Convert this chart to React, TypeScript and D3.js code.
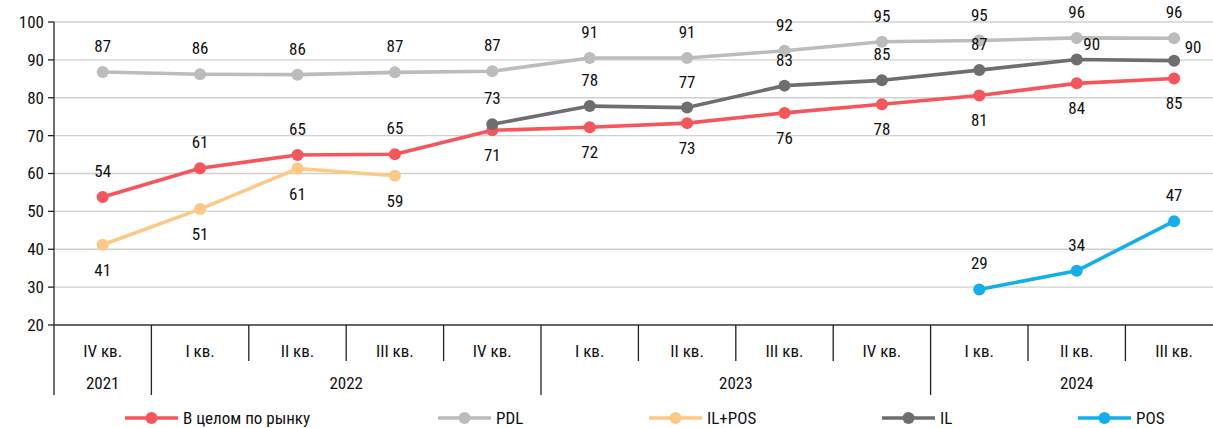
import React from "react";
import * as d3 from "d3";

// Quarters on the x axis, grouped by year
const quarters = ["IV кв.", "I кв.", "II кв.", "III кв.", "IV кв.", "I кв.", "II кв.", "III кв.", "IV кв.", "I кв.", "II кв.", "III кв."];
const years = ["2021", "2022", "2023", "2024"];
const yearStart = [0, 1, 5, 9];
const yTicks = [20, 30, 40, 50, 60, 70, 80, 90, 100];

// Series values per quarter (null = no data)
const marketValues = [53.8, 61.4, 64.9, 65.1, 71.4, 72.2, 73.3, 76.0, 78.3, 80.6, 83.8, 85.1];
const pdlValues = [86.8, 86.2, 86.1, 86.7, 87.0, 90.5, 90.5, 92.4, 94.8, 95.1, 95.8, 95.7];
const ilPosValues = [41.2, 50.6, 61.3, 59.4, null, null, null, null, null, null, null, null];
const ilValues = [null, null, null, null, 73.0, 77.8, 77.4, 83.2, 84.6, 87.3, 90.1, 89.8];
const posValues = [null, null, null, null, null, null, null, null, null, 29.4, 34.3, 47.4];

type Place = "above" | "below" | "aboveRight" | "right";

interface Series {
  name: string;
  values: (number | null)[];
  color: string;
  place: (i: number) => Place;
}

const series: Series[] = [
  { name: "В целом по рынку", values: marketValues, color: "#f5565b", place: (i) => (i < 4 ? "above" : "below") },
  { name: "PDL", values: pdlValues, color: "#bcbcbc", place: () => "above" },
  { name: "IL+POS", values: ilPosValues, color: "#fdc987", place: () => "below" },
  { name: "IL", values: ilValues, color: "#6e6e6e", place: (i) => (i === 11 ? "right" : i === 10 ? "aboveRight" : "above") },
  { name: "POS", values: posValues, color: "#14afea", place: () => "above" },
];

const legendX = [125, 438, 649, 882, 1078];

const W = 1213;
const H = 428;
const left = 54;
const band = 97.4;
const FONT = "'Liberation Sans Narrow', 'Arial Narrow', 'Roboto Condensed', 'Liberation Sans', sans-serif";

export default function App() {
  const x = d3.scaleBand<number>().domain(d3.range(quarters.length)).range([left, left + band * quarters.length]);
  const y = d3.scaleLinear().domain([20, 100]).range([325, 22]);
  const cx = (i: number) => (x(i) as number) + x.bandwidth() / 2;
  const axisY = y(20);

  const line = d3
    .line<[number, number | null]>()
    .defined((d) => d[1] !== null)
    .x((d) => cx(d[0]))
    .y((d) => y(d[1] as number));

  const offset = (p: Place) => {
    switch (p) {
      case "above":
        return [0, -26];
      case "below":
        return [0, 25];
      case "aboveRight":
        return [15, -15];
      case "right":
        return [19, -14];
    }
  };

  return (
    <svg width={W} height={H} style={{ position: "absolute", left: 0, top: 0, fontFamily: FONT }}>
      <rect width={W} height={H} fill="#fff" />
      {/* horizontal gridlines */}
      {yTicks.slice(1).map((t) => (
        <line key={t} x1={left} x2={W} y1={y(t)} y2={y(t)} stroke="#d0d0d0" strokeWidth={1.3} />
      ))}
      {/* y axis */}
      <line x1={left} x2={left} y1={y(100)} y2={395} stroke="#222" strokeWidth={1.3} />
      {yTicks.map((t) => (
        <g key={t}>
          <line x1={left - 6} x2={left} y1={y(t)} y2={y(t)} stroke="#222" strokeWidth={1.3} />
          <text x={left - 10} y={y(t)} dy="0.35em" textAnchor="end" fontSize={17} fill="#111">
            {t}
          </text>
        </g>
      ))}
      {/* x axis */}
      <line x1={left} x2={W} y1={axisY} y2={axisY} stroke="#333" strokeWidth={1.5} />
      {quarters.map((q, i) => {
        const bx = (x(i) as number) + band;
        const isYear = yearStart.includes(i + 1);
        return (
          <g key={i}>
            {i < quarters.length - 1 && (
              <line x1={bx} x2={bx} y1={axisY} y2={isYear ? 395 : 361} stroke="#222" strokeWidth={1.3} />
            )}
            <text x={cx(i)} y={351} dy="0.35em" textAnchor="middle" fontSize={17} fill="#111">
              {q}
            </text>
          </g>
        );
      })}
      {years.map((yr, k) => {
        const s = yearStart[k];
        const e = k < years.length - 1 ? yearStart[k + 1] - 1 : quarters.length - 1;
        return (
          <text key={yr} x={(cx(s) + cx(e)) / 2} y={383} dy="0.35em" textAnchor="middle" fontSize={17} fill="#111">
            {yr}
          </text>
        );
      })}
      {/* series */}
      {series.map((s) => {
        const pts = s.values.map((v, i) => [i, v] as [number, number | null]);
        return (
          <g key={s.name}>
            <path d={line(pts) || ""} fill="none" stroke={s.color} strokeWidth={3.6} strokeLinejoin="round" />
            {pts
              .filter((d) => d[1] !== null)
              .map((d) => {
                const [dx, dy] = offset(s.place(d[0]));
                return (
                  <g key={d[0]}>
                    <circle cx={cx(d[0])} cy={y(d[1] as number)} r={6} fill={s.color} />
                    <text
                      x={cx(d[0]) + dx}
                      y={y(d[1] as number) + dy}
                      dy="0.35em"
                      textAnchor="middle"
                      fontSize={17}
                      fill="#111"
                    >
                      {Math.round(d[1] as number)}
                    </text>
                  </g>
                );
              })}
          </g>
        );
      })}
      {/* legend */}
      {series.map((s, k) => (
        <g key={s.name} transform={`translate(${legendX[k]},418)`}>
          <line x1={0} x2={53} y1={0} y2={0} stroke={s.color} strokeWidth={3.6} />
          <circle cx={26.5} cy={0} r={6} fill={s.color} />
          <text x={58} y={0} dy="0.35em" fontSize={17} fill="#111">
            {s.name}
          </text>
        </g>
      ))}
    </svg>
  );
}
